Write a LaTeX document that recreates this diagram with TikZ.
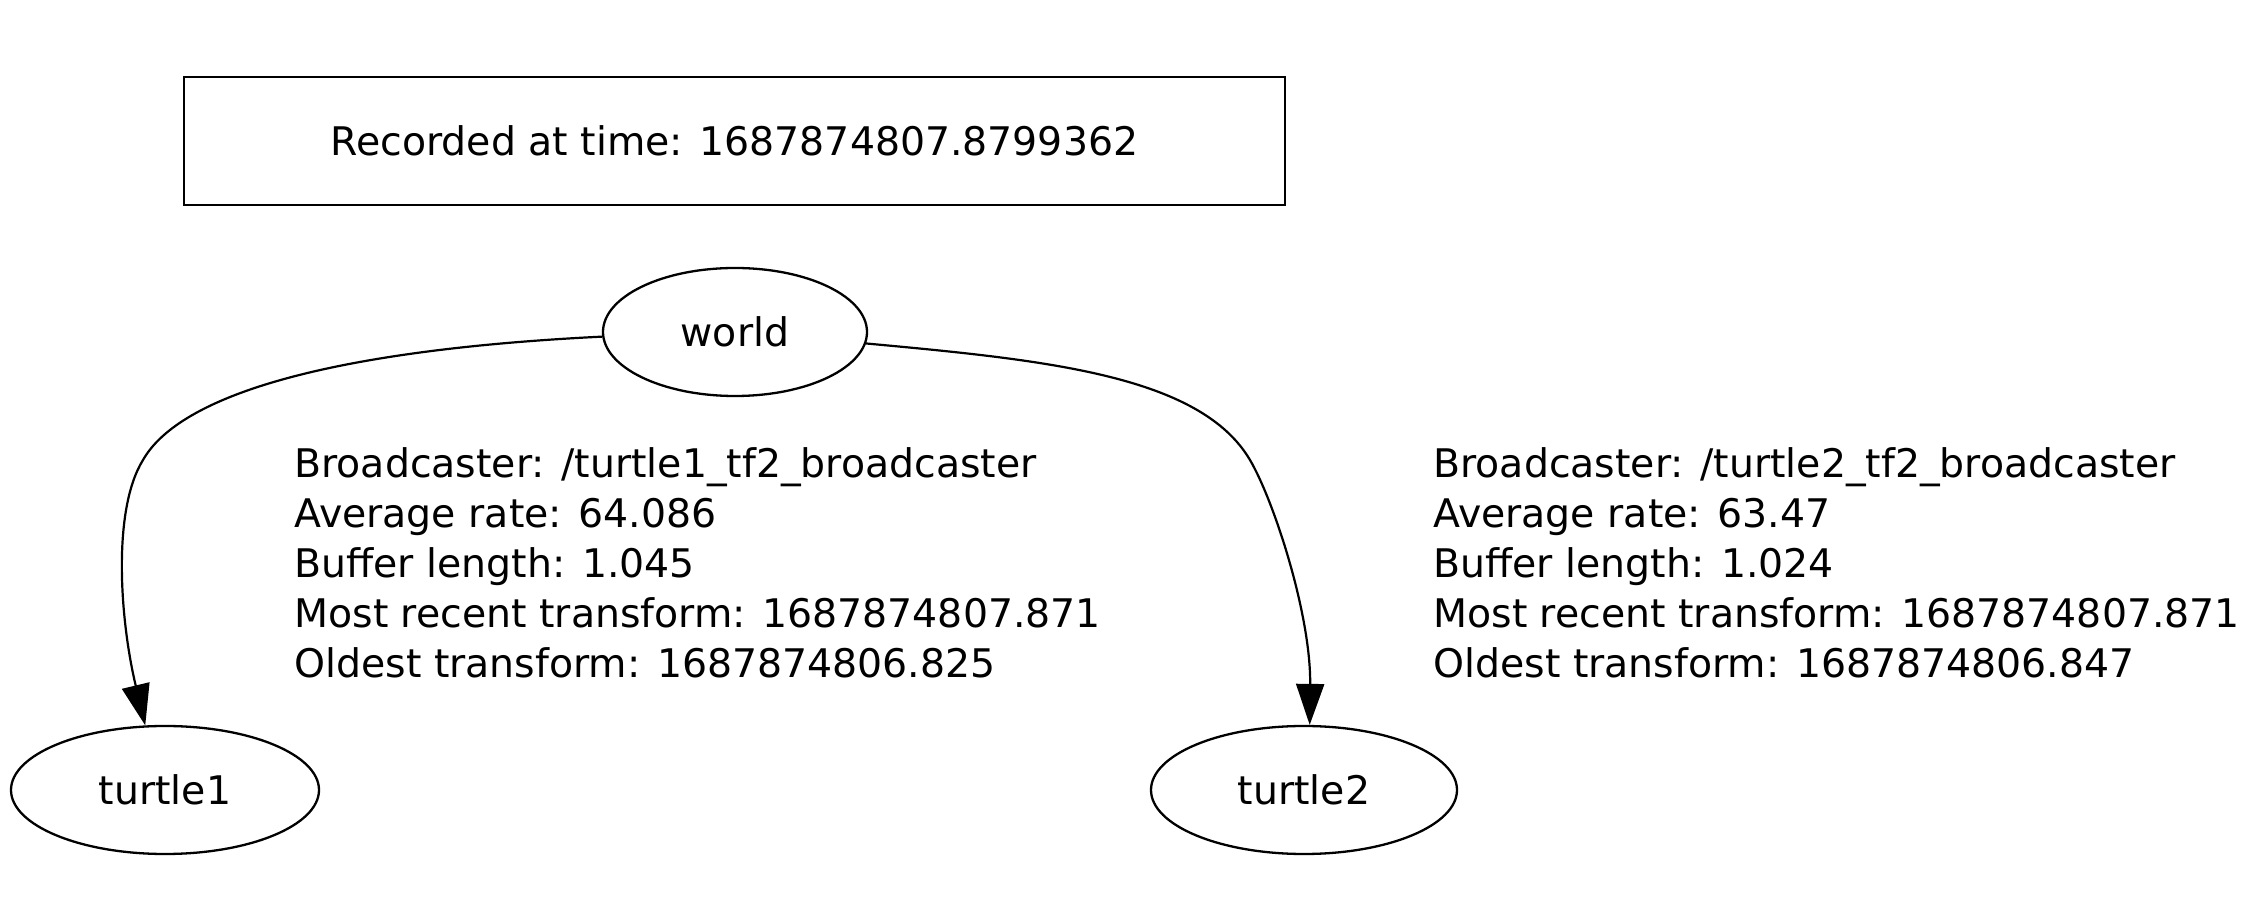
\documentclass[tikz,border=0pt]{standalone}
\usepackage{fontspec}
\setmainfont{DejaVu Sans}
\usetikzlibrary{shapes.geometric,arrows.meta}
\begin{document}
\begin{tikzpicture}[x=0.5pt,y=-0.5pt,
  every node/.style={font=\fontsize{19.7}{25.1}\selectfont, inner sep=0pt},
  frame/.style={draw, line width=1.4pt, minimum width=550.5pt, minimum height=64pt},
  oval/.style={draw, ellipse, line width=1.15pt, minimum height=64pt},
  edgearrow/.style={line width=1.1pt, -{Triangle[length=20.5pt,width=14pt]}},
  info/.style={align=left, anchor=base west}]
\useasboundingbox (0,0) rectangle (2267,897);
\node[frame] (rec) at (734.5,141) {Recorded at time: 1687874807.8799362};
\node[oval, minimum width=132pt] (world) at (735,332) {world};
\node[oval, minimum width=154pt] (turtle1) at (165,790) {turtle1};
\node[oval, minimum width=153pt] (turtle2) at (1304,790) {turtle2};
\draw[edgearrow] (world.182) .. controls (330,350) and (180,395) .. (143,460)
  .. controls (112,510) and (120,620) .. (turtle1.107);
\draw[edgearrow] (world.-5) .. controls (1045,360) and (1200,375) .. (1250,460)
  .. controls (1274,501) and (1311,615) .. (turtle2.85);
\node[info] (lab1) at (294,678) {Broadcaster: /turtle1\_tf2\_broadcaster\\Average rate: 64.086\\Buffer length: 1.045\\Most recent transform: 1687874807.871\\Oldest transform: 1687874806.825};
\node[info] (lab2) at (1433,678) {Broadcaster: /turtle2\_tf2\_broadcaster\\Average rate: 63.47\\Buffer length: 1.024\\Most recent transform: 1687874807.871\\Oldest transform: 1687874806.847};
\end{tikzpicture}
\end{document}
